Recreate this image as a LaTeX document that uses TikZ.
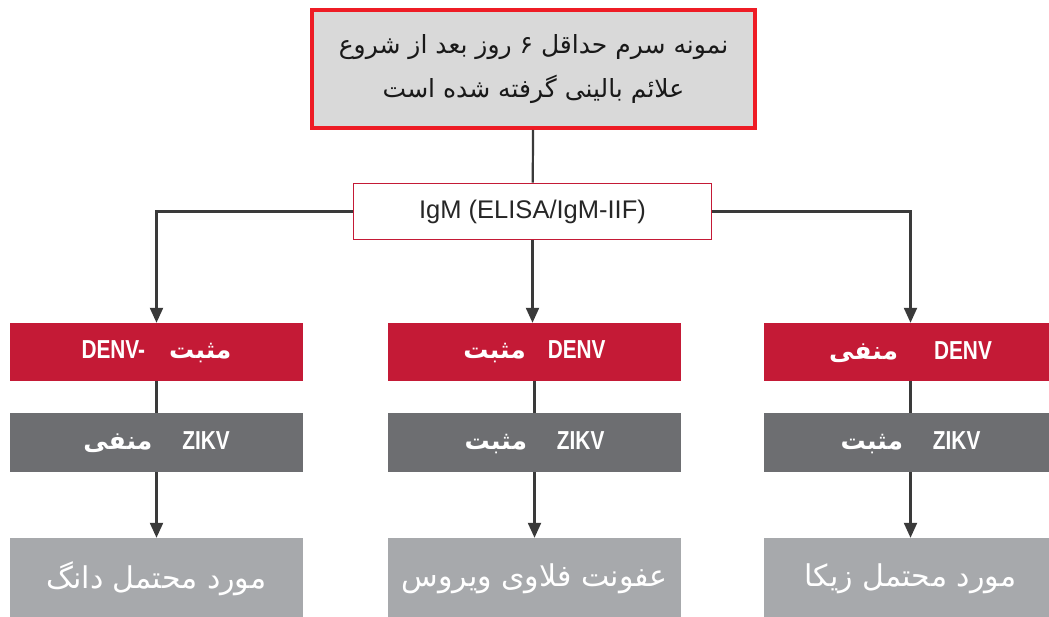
\documentclass[tikz,border=0pt]{standalone}
\usepackage{fontspec}
\setmainfont{Liberation Sans}
\newfontfamily\fafont[Script=Arabic]{DejaVu Sans}
\newfontfamily\narrowfont[FakeStretch=0.8]{Liberation Sans}
\TeXXeTstate=1
\usetikzlibrary{arrows.meta,positioning}
\definecolor{boxred}{HTML}{C41A36}
\definecolor{darkbox}{HTML}{6D6E71}
\definecolor{lightbox}{HTML}{A7A9AC}
\definecolor{topred}{HTML}{EE1C25}
\definecolor{topfill}{HTML}{D9D9D9}
\definecolor{linegray}{HTML}{3A3A3A}
\newcommand{\fa}[1]{{\fafont\fontsize{25}{28}\selectfont\beginR #1\endR}}
\begin{document}
\begin{tikzpicture}[x=1pt, y=-1pt,
    cell/.style={minimum width=293pt, inner sep=0pt, text=white, font=\narrowfont\bfseries\fontsize{26}{28}\selectfont},
    denvbox/.style={cell, fill=boxred, minimum height=58pt},
    zikvbox/.style={cell, fill=darkbox, minimum height=59pt},
    resbox/.style={cell, fill=lightbox, minimum height=82pt, font=\fafont\fontsize{30}{32}\selectfont},
    link/.style={draw=linegray, line width=2.2pt},
    arr/.style={link, -{Triangle[width=13pt,length=15pt]}}]
    \useasboundingbox (0, 0) rectangle (1049, 617);
    \node[draw=topred, line width=4pt, fill=topfill, minimum width=443pt, minimum height=118pt, align=center,
        font=\fafont\fontsize{25}{44}\selectfont, text=black!90] (sample) at (533.5, 69)
        {\beginR نمونه سرم حداقل ۶ روز بعد از شروع\endR\\\beginR علائم بالینی گرفته شده است\endR};
    \node[draw=boxred, line width=1.6pt, fill=white, minimum width=358pt, minimum height=56pt,
        font=\fontsize{25.5}{28}\selectfont, text=black!85] (igm) at (532.5, 211.5) {IgM (ELISA/IgM-IIF)};

    \node[denvbox] (denvl) at (156.5, 352) {DENV-\hspace{24pt}\fa{مثبت}};
    \node[denvbox] (denvc) at (534.5, 352) {\fa{مثبت}\hspace{22pt}DENV};
    \node[denvbox] (denvr) at (910.5, 352) {\fa{منفی}\hspace{36pt}DENV};

    \node[zikvbox] (zikvl) at (156.5, 442.5) {\fa{منفی}\hspace{30pt}ZIKV};
    \node[zikvbox] (zikvc) at (534.5, 442.5) {\fa{مثبت}\hspace{30pt}ZIKV};
    \node[zikvbox] (zikvr) at (910.5, 442.5) {\fa{مثبت}\hspace{30pt}ZIKV};

    \node[resbox] (resl) at (156.5, 579) {\beginR مورد محتمل دانگ\endR};
    \node[resbox] (resc) at (534.5, 579) {\beginR عفونت فلاوی ویروس\endR};
    \node[resbox] (resr) at (910.5, 579) {\beginR مورد محتمل زیکا\endR};

    \draw[link] (sample) -- (igm);
    \draw[arr] (igm.west) -| (denvl.north);
    \draw[arr] (igm.south) -- (igm.south |- denvc.north);
    \draw[arr] (igm.east) -| (denvr.north);
    \foreach \c in {l, c, r} {
        \draw[link] (denv\c) -- (zikv\c);
        \draw[arr] (zikv\c) -- (res\c);
    }
\end{tikzpicture}
\end{document}
